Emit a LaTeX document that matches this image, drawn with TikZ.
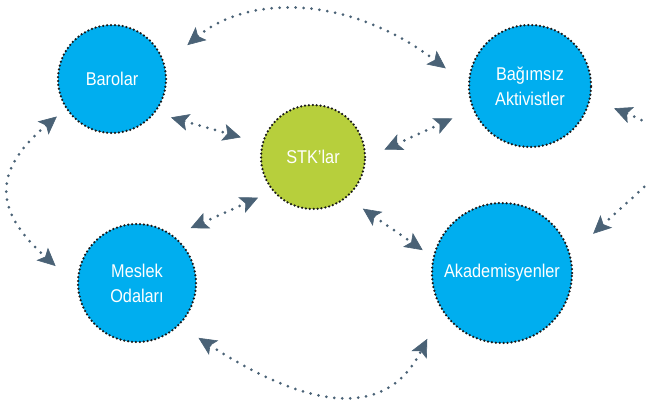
\documentclass[tikz,border=0pt]{standalone}
\usepackage{fontspec}
\setmainfont{Liberation Sans}[FakeStretch=0.88]
\usetikzlibrary{positioning,arrows.meta}
\definecolor{orgblue}{RGB}{0,174,239}
\definecolor{stkgreen}{RGB}{183,207,60}
\definecolor{linkgray}{RGB}{74,98,118}

\begin{document}
\begin{tikzpicture}[x=1pt, y=1pt, >={Stealth[length=18pt, width=17pt, inset=4pt, line width=0.6pt, fill=linkgray]}]
    \tikzset{actor/.style={circle, draw=black!90, line width=2.5pt, dash pattern=on 0pt off 3.9pt, line cap=round, text=white, align=center, inner sep=0pt, font=\fontsize{18.5}{25}\selectfont},
             link/.style={<->, draw=linkgray, line width=3pt, dash pattern=on 0pt off 8pt, line cap=round}}
    \useasboundingbox (0,0) rectangle (647,-399);

    % Nodes
    \node[actor, fill=orgblue, minimum size=108pt]  (baro) at (112,-79)  {Barolar};
    \node[actor, fill=stkgreen, minimum size=104pt] (stk)  at (313,-157) {STK’lar};
    \node[actor, fill=orgblue, minimum size=122pt]  (akt)  at (530,-86)  {Bağımsız\\Aktivistler};
    \node[actor, fill=orgblue, minimum size=118pt]  (mes)  at (137,-283) {Meslek\\Odaları};
    \node[actor, fill=orgblue, minimum size=140pt]  (aka)  at (502,-273) {Akademisyenler};

    % Links to the centre
    \draw[link, shorten <=16pt, shorten >=21.5pt] (baro.-38) -- (stk.165);
    \draw[link, shorten <=20pt, shorten >=22pt]   (stk.-1)   -- (akt.202);
    \draw[link, shorten <=18pt, shorten >=15.5pt] (mes.52)   -- (stk.220);
    \draw[link, shorten <=19pt, shorten >=12pt]   (stk.-50)  -- (aka.167);

    % Links around the outside
    \draw[link, shorten <=29pt, shorten >=27.5pt] (baro.16) to[out=40, in=143, out distance=104pt, in distance=155pt] (akt.179);
    \draw[link, shorten <=11.5pt, shorten >=28.5pt] (baro.213) to[out=220, in=138, looseness=1.5] (mes.182);
    \draw[link, shorten <=25pt, shorten >=30.5pt] (akt.-12) to[out=-22, in=43, looseness=2] (aka.15);
    \draw[link, shorten <=22.5pt, shorten >=31.5pt] (mes.-45) to[out=-33, in=243, looseness=1.3] (aka.212);
\end{tikzpicture}
\end{document}
